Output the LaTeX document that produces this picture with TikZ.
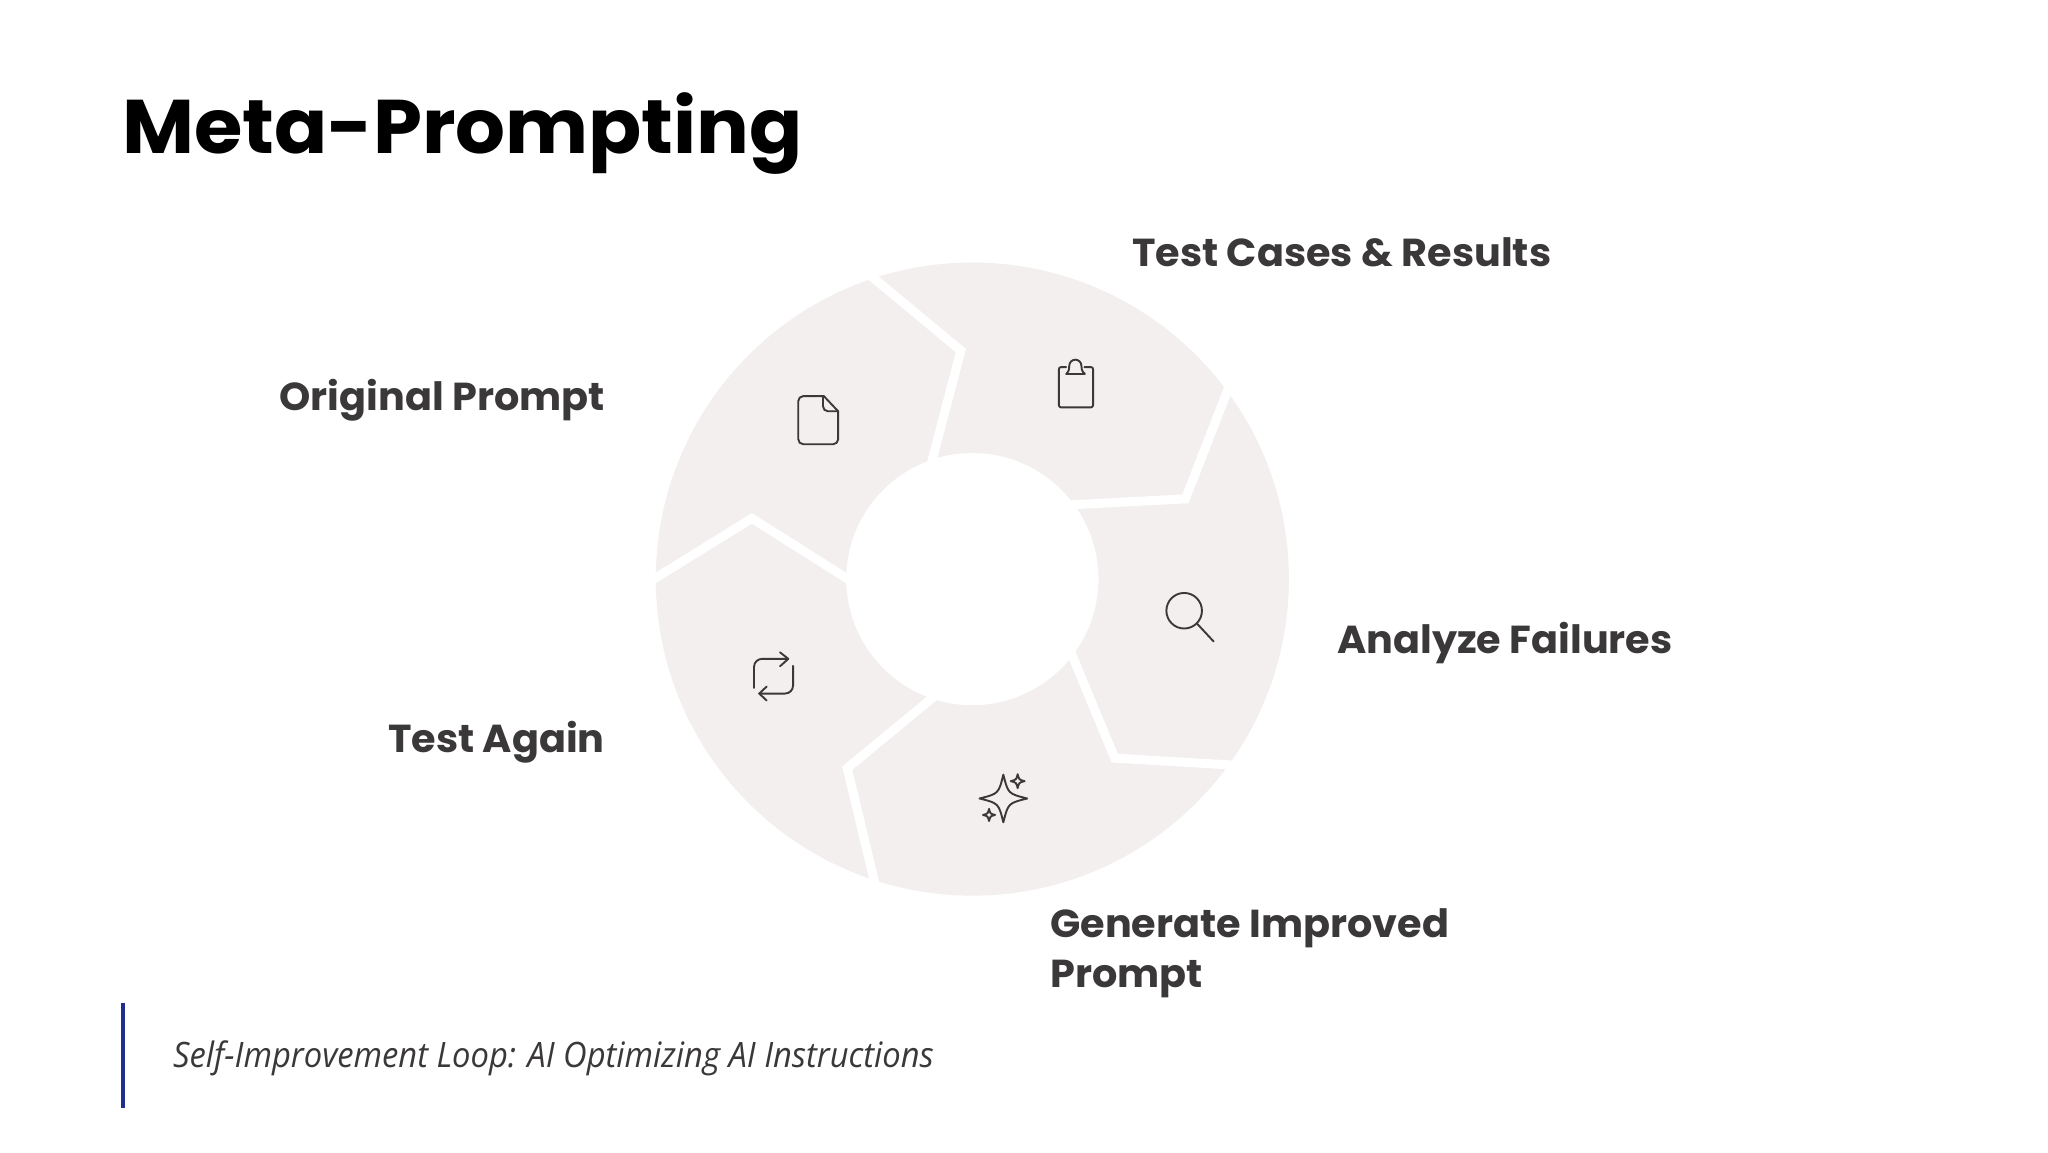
\documentclass[tikz,border=0pt]{standalone}
\usepackage{fontspec}
\setmainfont{Poppins}[FakeStretch=1.02]
\newfontfamily\titlefont{Poppins}[FakeStretch=1.032]
\newfontfamily\notefont{Open Sans}[FakeStretch=0.9345]
\definecolor{ring}{HTML}{F2EFEE}
\definecolor{ink}{HTML}{3A3838}
\definecolor{barblue}{HTML}{1F2F8F}
\tikzset{
  lbl/.style={font=\fontsize{39}{50}\selectfont\bfseries,text=ink,inner sep=0pt,align=left},
  sep/.style={draw=white,line width=9pt,line join=miter,line cap=butt},
  ico/.style={draw=ink,line width=1.9pt,line join=round,line cap=round,fill=none},
  zoomed/.style={shift={(640,240)},x=0.4336pt,y=-0.4336pt}
}
\newcommand{\starry}[3]{\draw[ico] (#1,#2-#3) .. controls (#1+0.2*#3,#2-0.2*#3) .. (#1+#3,#2) .. controls (#1+0.2*#3,#2+0.2*#3) .. (#1,#2+#3) .. controls (#1-0.2*#3,#2+0.2*#3) .. (#1-#3,#2) .. controls (#1-0.2*#3,#2-0.2*#3) .. cycle;}
\begin{document}
\begin{tikzpicture}[x=1pt,y=-1pt]
\useasboundingbox (0,0) rectangle (2048,1152);
\fill[white] (0,0) rectangle (2048,1152);
\node[anchor=base west,inner sep=0pt,font=\titlefont\fontsize{76}{90}\selectfont\bfseries,text=black] (title) at (122,153) {Meta-Prompting};
\begin{scope}[zoomed]
  \fill[ring,even odd rule] (766.5,782) circle[radius=730] (766.5,782) circle[radius=291];
  \draw[sep] (505,60) -- (740,255) -- (668,530);
  \draw[sep] (1385,270) -- (1258,597) -- (970,612);
  \draw[sep] (1420,1214) -- (1095,1195) -- (985,930);
  \draw[sep] (555,1540) -- (478,1218) -- (700,1035);
  \draw[sep] (-10,808) -- (258,642) -- (500,795);
  % document
  \draw[ico,rounded corners=5pt] (457,395) -- (457,471) -- (365,471) -- (365,360) -- (424,360);
  \draw[ico] (424,360) -- (457,395);
  \draw[ico,rounded corners=5pt] (422,360) -- (422,395) -- (457,395);
  % clipboard
  \draw[ico,rounded corners=2.2pt] (983,293) -- (966,293) -- (966,386) -- (1045,386) -- (1045,293) -- (1025,293);
  \draw[ico] (983,309) -- (1026,309) .. controls (1018,302) and (1018,296) .. (1018,290) arc[start angle=0,end angle=-180,radius=14] .. controls (990,296) and (990,302) .. (983,309) -- cycle;
  % magnifier
  \draw[ico] (1255,855) circle[radius=41];
  \draw[ico] (1284,884) -- (1323,926);
  % repeat
  \draw[ico,rounded corners=8pt] (263,1033) -- (263,966) -- (342,966);
  \draw[ico] (323,951) -- (342,966) -- (323,983);
  \draw[ico,rounded corners=8pt] (353,982) -- (353,1046) -- (275,1046);
  \draw[ico] (292,1030) -- (275,1046) -- (292,1062);
  % sparkles
  \starry{838}{1288}{55}
  \starry{871}{1248}{16}
  \starry{805}{1326}{14}
\end{scope}
\node[lbl,anchor=base west] (cases) at (1132,266) {Test Cases \& Results};
\node[lbl,anchor=base east] (orig) at (605,410) {Original Prompt};
\node[lbl,anchor=base west] (fail) at (1337,653) {Analyze Failures};
\node[lbl,anchor=base east] (again) at (605,752) {Test Again};
\node[lbl,anchor=base west] (gen) at (1050,987) {Generate Improved\\Prompt};
\draw[barblue,line width=3.5pt] (123,1003) -- (123,1108);
\node[anchor=base west,inner sep=0pt,text=ink,font=\notefont\itshape\fontsize{35}{40}\selectfont] (note) at (173,1067) {Self-Improvement Loop: AI Optimizing AI Instructions};
\end{tikzpicture}
\end{document}
